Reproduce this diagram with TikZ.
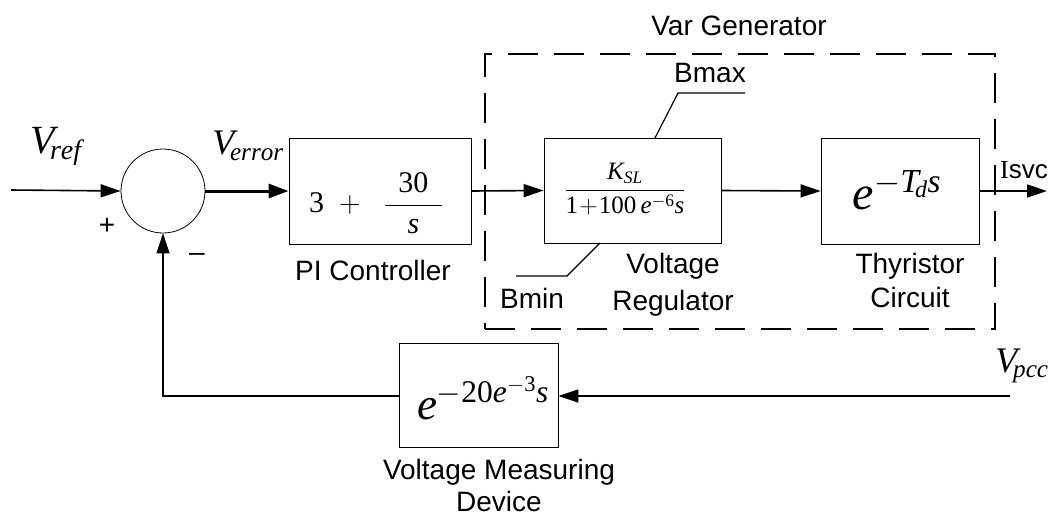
\RequirePackage{fix-cm}
\documentclass[tikz,border=0pt]{standalone}
\usepackage{amsmath}
\usepackage{fontspec}
\setmainfont{Liberation Serif}
\setsansfont{Liberation Sans}
\usetikzlibrary{arrows.meta}
\tikzset{
  blk/.style={draw, line width=0.8pt, inner sep=0pt},
  lab/.style={font=\sffamily\fontsize{28}{33}\selectfont, inner sep=0pt, anchor=base},
  sgn/.style={font=\sffamily\fontsize{28}{33}\selectfont, inner sep=0pt},
  mth/.style={inner sep=0pt},
  sig/.style={line width=1.6pt, -{Triangle[length=20pt,width=13pt]}},
  thin/.style={line width=1.2pt},
  dbox/.style={draw, line width=1.5pt, dash pattern=on 30pt off 16pt, inner sep=0pt}
}
\begin{document}
\begin{tikzpicture}[x=1pt,y=-1pt]
\useasboundingbox (0,0) rectangle (1051,517);

% dashed Var Generator box
\node[dbox, minimum width=510, minimum height=275] (vargen) at (740,191.5) {};
\node[lab] (vglab) at (739,35) {Var Generator};

% sum junction
\node[draw, circle, line width=0.8pt, minimum size=84, inner sep=0pt] (sum) at (163,191) {};

% blocks
\node[blk, minimum width=182, minimum height=106] (pi) at (380,191) {};
\node[mth, font=\fontsize{30}{34}\selectfont] (pitf) at (376,203) {$\mathrm{3}\;+\;\;\dfrac{\;\,\mathrm{30}\;\,}{\mathit{s}}$};
\node[lab] (pilab) at (373,280) {PI Controller};

\node[blk, minimum width=177, minimum height=105] (vr) at (632.5,190.5) {};
\node[mth, font=\fontsize{25}{29}\selectfont] (vrtf) at (625,189) {$\dfrac{\mathit{K}_{\mathit{SL}}}{\mathrm{1}\!+\!\mathrm{100}\,\mathit{e}^{-\mathrm{6}}\mathit{s}}$};
\node[lab] (vrlab1) at (673,273) {Voltage};
\node[lab] (vrlab2) at (673,310) {Regulator};

\node[blk, minimum width=158, minimum height=106] (thy) at (900,191) {};
\node[mth, font=\fontsize{48}{52}\selectfont] (thytf) at (897,190) {$\mathit{e}^{-\mathit{T}_{\!\mathit{d}}\mathit{s}}$};
\node[lab] (thylab1) at (910,273) {Thyristor};
\node[lab] (thylab2) at (910,307) {Circuit};

\node[blk, minimum width=159, minimum height=104] (vmd) at (478.5,395) {};
\node[mth, font=\fontsize{45}{49}\selectfont] (vmdtf) at (483,398) {$\mathit{e}^{-\mathrm{20}\mathit{e}^{-\mathrm{3}}\mathit{s}}$};
\node[lab] (vmdlab1) at (499,479) {Voltage Measuring};
\node[lab] (vmdlab2) at (499,511) {Device};

% limiter lines
\coordinate (bmaxa) at (655,138);
\coordinate (bmaxb) at (678,93);
\coordinate (bmaxc) at (745,93);
\coordinate (bmina) at (600,243);
\coordinate (bminb) at (567,276);
\coordinate (bminc) at (516,276);
\draw[thin] (bmaxa) -- (bmaxb) -- (bmaxc);
\draw[thin] (bmina) -- (bminb) -- (bminc);
\node[lab] (bmaxlab) at (710,82) {Bmax};
\node[lab] (bminlab) at (532,308) {Bmin};

% signals
\coordinate (in) at (11,190);
\coordinate (out) at (1047,191);
\coordinate (vpcc) at (1010,396);
\coordinate (corner) at (163,396);

\draw[sig] (in) -- (sum.west);
\draw[line width=3pt, -{Triangle[length=20pt,width=14pt]}] (sum.east) -- (pi.west);
\draw[sig] (pi.east) -- (vr.west);
\draw[sig] (vr.east) -- (thy.west);
\draw[sig] (thy.east) -- (out);
\draw[sig] (vpcc) -- (vmd.east |- vpcc);
\draw[sig] (vmd.west |- corner) -- (corner) -- (sum.south);

% signal labels
\node[mth, font=\fontsize{40}{44}\selectfont] (vref) at (56,146) {$\mathit{V}_{\!\mathit{ref}}$};
\node[mth, font=\fontsize{36}{40}\selectfont] (verr) at (248,146) {$\mathit{V}_{\!\mathit{error}}$};
\node[mth, font=\fontsize{36}{40}\selectfont] (vpcclab) at (1022,366) {$\mathit{V}_{\!\mathit{pcc}}$};
\node[lab, font=\sffamily\fontsize{26}{30}\selectfont] (isvc) at (1024,178) {\rmfamily I\sffamily svc};
\node[sgn] (plus) at (107,226) {+};
\node[sgn] (minus) at (197,257) {--};
\end{tikzpicture}
\end{document}
